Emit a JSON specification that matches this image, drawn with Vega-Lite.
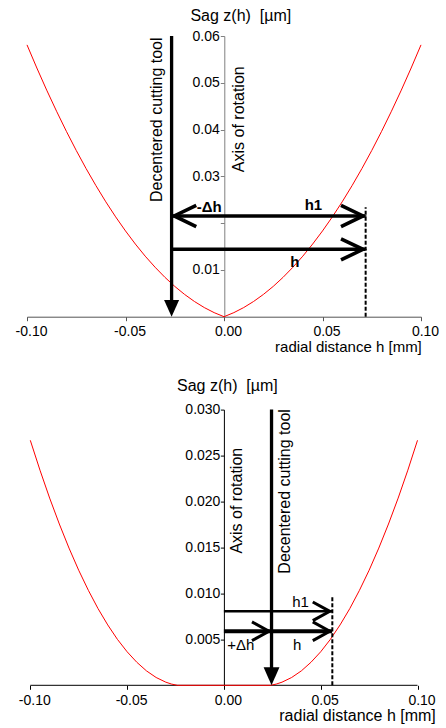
{
  "$schema": "https://vega.github.io/schema/vega-lite/v6.json",
  "background": "white",
  "padding": {"left": 15, "top": 7, "right": 0, "bottom": 0},
  "bounds": "flush",
  "spacing": 92.6,
  "config": {
    "view": {"stroke": null},
    "font": "Liberation Sans",
    "axis": {"grid": false, "labelFont": "Liberation Sans", "titleFont": "Liberation Sans", "labelColor": "black", "titleColor": "black", "titleFontWeight": "normal", "labelFlush": false, "labelOverlap": false, "labelBound": false}
  },
  "vconcat": [
    {
      "width": 394,
      "height": 280.7,
      "encoding": {
        "x": {"field": "x", "type": "quantitative", "scale": {"domain": [-0.1, 0.1], "nice": false, "zero": false},
          "axis": {"orient": "bottom", "values": [-0.1, -0.05, 0, 0.05, 0.1], "labelExpr": "datum.value < 0 ? '-' + format(-datum.value, '.2f') : format(datum.value, '.2f')", "labelFontSize": 14, "labelOffset": 4, "tickSize": 4, "labelPadding": 4, "domainColor": "#555555", "tickColor": "#555555", "title": "radial distance h [mm]", "titleFontSize": 15, "titleAlign": "right", "titleAnchor": null, "titleX": 394.3, "titleY": 35, "titleBaseline": "alphabetic"}},
        "y": {"field": "y", "type": "quantitative", "scale": {"domain": [0, 0.06], "nice": false},
          "axis": {"orient": "left", "offset": -197.3, "values": [0.01, 0.02, 0.03, 0.04, 0.05, 0.06], "labelExpr": "datum.value == 0.02 ? '' : format(datum.value, '.2f')", "labelFontSize": 14, "tickSize": 4, "labelPadding": 1, "domainColor": "#808080", "tickColor": "#808080", "title": "Sag z(h) \u00a0[µm]", "titleAngle": 0, "titleFontSize": 16, "titleAlign": "center", "titleBaseline": "alphabetic", "titleX": 16, "titleY": -16}}
      },
      "layer": [
        {
          "data": {"values": [
            {"x": -0.1, "y": 0.0581}, {"x": -0.095, "y": 0.05316}, {"x": -0.09, "y": 0.04843}, {"x": -0.085, "y": 0.04392},
            {"x": -0.08, "y": 0.03962}, {"x": -0.075, "y": 0.03553}, {"x": -0.07, "y": 0.03166}, {"x": -0.065, "y": 0.02801},
            {"x": -0.06, "y": 0.02456}, {"x": -0.055, "y": 0.02134}, {"x": -0.05, "y": 0.01833}, {"x": -0.045, "y": 0.01553},
            {"x": -0.04, "y": 0.01294}, {"x": -0.035, "y": 0.01058}, {"x": -0.03, "y": 0.00842}, {"x": -0.025, "y": 0.00648},
            {"x": -0.02, "y": 0.00476}, {"x": -0.015, "y": 0.00325}, {"x": -0.01, "y": 0.00195}, {"x": -0.005, "y": 0.00087},
            {"x": 0, "y": 0},
            {"x": 0.005, "y": 0.00087}, {"x": 0.01, "y": 0.00195}, {"x": 0.015, "y": 0.00325}, {"x": 0.02, "y": 0.00476},
            {"x": 0.025, "y": 0.00648}, {"x": 0.03, "y": 0.00842}, {"x": 0.035, "y": 0.01058}, {"x": 0.04, "y": 0.01294},
            {"x": 0.045, "y": 0.01553}, {"x": 0.05, "y": 0.01833}, {"x": 0.055, "y": 0.02134}, {"x": 0.06, "y": 0.02456},
            {"x": 0.065, "y": 0.02801}, {"x": 0.07, "y": 0.03166}, {"x": 0.075, "y": 0.03553}, {"x": 0.08, "y": 0.03962},
            {"x": 0.085, "y": 0.04392}, {"x": 0.09, "y": 0.04843}, {"x": 0.095, "y": 0.05316}, {"x": 0.1, "y": 0.0581}
          ]},
          "mark": {"type": "line", "color": "#ff0000", "strokeWidth": 1}
        },
        {
          "data": {"values": [{"x": -0.0266, "y": 0.06, "y2": 0.003}]},
          "mark": {"type": "rule", "color": "black", "strokeWidth": 3.3, "strokeCap": "butt"},
          "encoding": {"y2": {"field": "y2"}}
        },
        {
          "data": {"values": [{"x": -0.0266, "y": 0}]},
          "mark": {"type": "point", "shape": "M0,0L-0.45,-1L0.45,-1Z", "filled": true, "size": 1115, "color": "black", "opacity": 1, "strokeWidth": 0}
        },
        {
          "data": {"values": [{"x": -0.0266, "x2": 0.0716, "y": 0.02153}, {"x": -0.0266, "x2": 0.0716, "y": 0.0144}]},
          "mark": {"type": "rule", "color": "black", "strokeWidth": 3.5, "strokeCap": "butt"},
          "encoding": {"x2": {"field": "x2"}}
        },
        {
          "data": {"values": [{"x": 0.0719, "y": 0.02153}, {"x": 0.0719, "y": 0.0144}]},
          "mark": {"type": "point", "shape": "M-1.12,-0.48L-0.12,0L-1.12,0.48", "filled": false, "size": 1936, "stroke": "black", "strokeWidth": 3.6, "opacity": 1, "strokeJoin": "miter"}
        },
        {
          "data": {"values": [{"x": -0.0266, "y": 0.02153}]},
          "mark": {"type": "point", "shape": "M-1.12,-0.48L-0.12,0L-1.12,0.48", "angle": 180, "filled": false, "size": 1936, "stroke": "black", "strokeWidth": 3.6, "opacity": 1, "strokeJoin": "miter"}
        },
        {
          "data": {"values": [{"x": 0.0719, "y": 0, "y2": 0.0234}]},
          "mark": {"type": "rule", "color": "black", "strokeWidth": 2, "strokeDash": [4, 2]},
          "encoding": {"y2": {"field": "y2"}}
        },
        {
          "data": {"values": [{"x": -0.0317, "y": 0.02452, "label": "Decentered cutting tool"}, {"x": 0.0104, "y": 0.0309, "label": "Axis of rotation"}]},
          "mark": {"type": "text", "angle": 270, "align": "left", "baseline": "alphabetic", "fontSize": 16, "color": "black"},
          "encoding": {"text": {"field": "label", "type": "nominal"}}
        },
        {
          "data": {"values": [{"x": 0.0454, "y": 0.0228, "label": "h1"}, {"x": 0.036, "y": 0.0106, "label": "h"}]},
          "mark": {"type": "text", "align": "center", "baseline": "alphabetic", "fontSize": 15, "fontWeight": "bold", "color": "black"},
          "encoding": {"text": {"field": "label", "type": "nominal"}}
        },
        {
          "data": {"values": [{"x": -0.0012, "y": 0.02245, "label": "-Δh"}]},
          "mark": {"type": "text", "align": "right", "baseline": "alphabetic", "fontSize": 15, "fontWeight": "bold", "color": "black"},
          "encoding": {"text": {"field": "label", "type": "nominal"}}
        }
      ]
    },
    {
      "width": 394,
      "height": 275.7,
      "encoding": {
        "x": {"field": "x", "type": "quantitative", "scale": {"domain": [-0.1017, 0.1018], "nice": false, "zero": false},
          "axis": {"orient": "bottom", "values": [-0.1, -0.05, 0, 0.05, 0.1], "labelExpr": "datum.value < 0 ? '-' + format(-datum.value, '.2f') : format(datum.value, '.2f')", "labelFontSize": 14, "labelOffset": 4, "tickSize": 4, "labelPadding": 4, "domain": false, "tickColor": "black", "title": "radial distance h [mm]", "titleFontSize": 16, "titleAlign": "right", "titleAnchor": null, "titleX": 408.3, "titleY": 35, "titleBaseline": "alphabetic"}},
        "y": {"field": "y", "type": "quantitative", "scale": {"domain": [0, 0.03], "nice": false},
          "axis": {"orient": "left", "offset": -196.9, "values": [0.005, 0.01, 0.015, 0.02, 0.025, 0.03], "format": ".3f", "labelFontSize": 14, "tickSize": 3.5, "labelPadding": 0.5, "domainColor": "black", "tickColor": "black", "title": "Sag z(h) \u00a0[µm]", "titleAngle": 0, "titleFontSize": 16, "titleAlign": "center", "titleBaseline": "alphabetic", "titleX": 3, "titleY": -19}}
      },
      "layer": [
        {
          "data": {"values": [{"x": -0.1, "x2": 0.1, "y": 0}]},
          "mark": {"type": "rule", "color": "black", "strokeWidth": 1},
          "encoding": {"x2": {"field": "x2"}}
        },
        {
          "data": {"values": [
            {"x": -0.1, "y": 0.02666}, {"x": -0.095, "y": 0.02341}, {"x": -0.09, "y": 0.02037}, {"x": -0.085, "y": 0.01755},
            {"x": -0.08, "y": 0.01493}, {"x": -0.075, "y": 0.01252}, {"x": -0.07, "y": 0.01033}, {"x": -0.065, "y": 0.00834},
            {"x": -0.06, "y": 0.00657}, {"x": -0.055, "y": 0.005}, {"x": -0.05, "y": 0.00365}, {"x": -0.045, "y": 0.00251},
            {"x": -0.04, "y": 0.00157}, {"x": -0.035, "y": 0.00085}, {"x": -0.03, "y": 0.00034}, {"x": -0.027, "y": 0.00013},
            {"x": -0.024, "y": 0}, {"x": 0, "y": 0}, {"x": 0.024, "y": 0},
            {"x": 0.027, "y": 0.00013}, {"x": 0.03, "y": 0.00034}, {"x": 0.035, "y": 0.00085}, {"x": 0.04, "y": 0.00157},
            {"x": 0.045, "y": 0.00251}, {"x": 0.05, "y": 0.00365}, {"x": 0.055, "y": 0.005}, {"x": 0.06, "y": 0.00657},
            {"x": 0.065, "y": 0.00834}, {"x": 0.07, "y": 0.01033}, {"x": 0.075, "y": 0.01252}, {"x": 0.08, "y": 0.01493},
            {"x": 0.085, "y": 0.01755}, {"x": 0.09, "y": 0.02037}, {"x": 0.095, "y": 0.02341}, {"x": 0.1, "y": 0.02666}
          ]},
          "mark": {"type": "line", "color": "#ff0000", "strokeWidth": 1}
        },
        {
          "data": {"values": [{"x": 0.0246, "y": 0.03, "y2": 0.0015}]},
          "mark": {"type": "rule", "color": "black", "strokeWidth": 3.3, "strokeCap": "butt"},
          "encoding": {"y2": {"field": "y2"}}
        },
        {
          "data": {"values": [{"x": 0.0246, "y": 0}]},
          "mark": {"type": "point", "shape": "M0,0L-0.44,-1L0.44,-1Z", "filled": true, "size": 1296, "color": "black", "opacity": 1, "strokeWidth": 0}
        },
        {
          "data": {"values": [{"x": 0, "x2": 0.0558, "y": 0.00805}]},
          "mark": {"type": "rule", "color": "black", "strokeWidth": 2.5, "strokeCap": "butt"},
          "encoding": {"x2": {"field": "x2"}}
        },
        {
          "data": {"values": [{"x": 0, "x2": 0.0558, "y": 0.00588}]},
          "mark": {"type": "rule", "color": "black", "strokeWidth": 4, "strokeCap": "butt"},
          "encoding": {"x2": {"field": "x2"}}
        },
        {
          "data": {"values": [{"x": 0.056, "y": 0.00805}, {"x": 0.056, "y": 0.00588}, {"x": 0.0246, "y": 0.00588}]},
          "mark": {"type": "point", "shape": "M-1.15,-0.55L-0.15,0L-1.15,0.55", "filled": false, "size": 1156, "stroke": "black", "strokeWidth": 3, "opacity": 1, "strokeJoin": "miter"}
        },
        {
          "data": {"values": [{"x": 0.056, "y": 0, "y2": 0.0098}]},
          "mark": {"type": "rule", "color": "black", "strokeWidth": 2, "strokeDash": [4, 2]},
          "encoding": {"y2": {"field": "y2"}}
        },
        {
          "data": {"values": [{"x": 0.0343, "y": 0.01215, "label": "Decentered cutting tool"}, {"x": 0.0095, "y": 0.01433, "label": "Axis of rotation"}]},
          "mark": {"type": "text", "angle": 270, "align": "left", "baseline": "alphabetic", "fontSize": 16, "color": "black"},
          "encoding": {"text": {"field": "label", "type": "nominal"}}
        },
        {
          "data": {"values": [{"x": 0.0396, "y": 0.00852, "label": "h1"}, {"x": 0.0378, "y": 0.00381, "label": "h"}]},
          "mark": {"type": "text", "align": "center", "baseline": "alphabetic", "fontSize": 15, "color": "black"},
          "encoding": {"text": {"field": "label", "type": "nominal"}}
        },
        {
          "data": {"values": [{"x": 0.00176, "y": 0.00381, "label": "+Δh"}]},
          "mark": {"type": "text", "align": "left", "baseline": "alphabetic", "fontSize": 15, "color": "black"},
          "encoding": {"text": {"field": "label", "type": "nominal"}}
        }
      ]
    }
  ]
}
